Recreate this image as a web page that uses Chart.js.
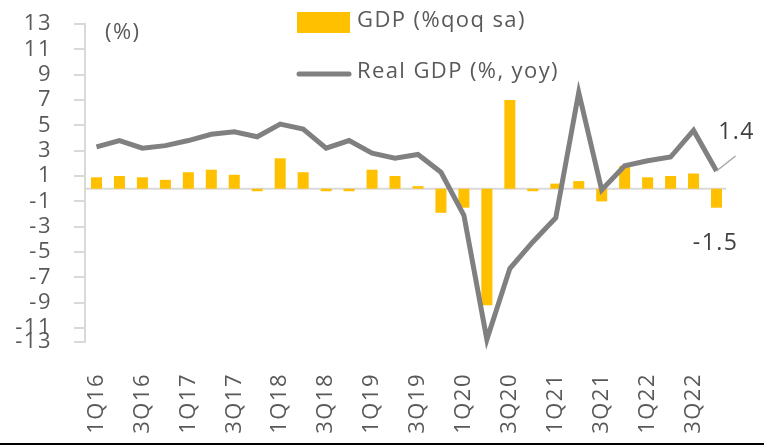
<!DOCTYPE html>
<html>
<head>
<meta charset="utf-8">
<script src="https://cdn.jsdelivr.net/npm/chart.js@4/dist/chart.umd.min.js"></script>
<style>
  html, body { margin: 0; padding: 0; background: #ffffff; }
  #wrap { width: 764px; height: 445px; position: relative; }
</style>
</head>
<body>
<div id="wrap"><canvas id="c" width="764" height="445"></canvas></div>
<script>
// ---- data ----
const quarters = ['1Q16','2Q16','3Q16','4Q16','1Q17','2Q17','3Q17','4Q17',
                  '1Q18','2Q18','3Q18','4Q18','1Q19','2Q19','3Q19','4Q19',
                  '1Q20','2Q20','3Q20','4Q20','1Q21','2Q21','3Q21','4Q21',
                  '1Q22','2Q22','3Q22','4Q22'];
const gdpQoq = [0.9, 1.0, 0.9, 0.7, 1.3, 1.5, 1.1, -0.2,
                2.4, 1.3, -0.2, -0.2, 1.5, 1.0, 0.2, -1.9,
                -1.5, -9.2, 7.0, -0.2, 0.4, 0.6, -1.0, 1.8,
                0.9, 1.0, 1.2, -1.5];
const gdpYoy = [3.3, 3.8, 3.2, 3.4, 3.8, 4.3, 4.5, 4.1,
                5.1, 4.7, 3.2, 3.8, 2.8, 2.4, 2.7, 1.3,
                -2.1, -11.9, -6.3, -4.2, -2.3, 7.6, -0.1, 1.8,
                2.2, 2.5, 4.6, 1.4];
const yTickValues = [13, 11, 9, 7, 5, 3, 1, -1, -3, -5, -7, -9, -11];
const yTickLabels = ['13','11','9','7','5','3','1','-1','-3','-5','-7','-9','-11','-13'];
const yMin = -12.1, yMax = 13;
const seriesNames = ['GDP (%qoq sa)', 'Real GDP (%, yoy)'];
const unitLabel = '(%)';

const FONT = '"Open Sans", "DejaVu Sans", sans-serif';
const TXT = '#595959';
const BAR = '#FFC000';
const LINE = '#808080';
const AXIS = '#D9D9D9';

const overlay = {
  id: 'overlay',
  beforeDraw(chart) {
    chart.ctx.letterSpacing = '1.5px';
  },
  beforeDatasetsDraw(chart) {
    const ctx = chart.ctx, ca = chart.chartArea, y = chart.scales.y;
    const y0 = y.getPixelForValue(0);
    ctx.save();
    ctx.strokeStyle = AXIS; ctx.lineWidth = 2;
    ctx.beginPath(); ctx.moveTo(ca.left, y0); ctx.lineTo(ca.right - 2, y0); ctx.stroke();
    ctx.restore();
  },
  afterDatasetsDraw(chart) {
    const ctx = chart.ctx;
    ctx.save();
    ctx.letterSpacing = '1.4px';
    // legend
    ctx.fillStyle = BAR;
    ctx.fillRect(297, 12, 53, 21);
    ctx.strokeStyle = LINE; ctx.lineWidth = 5; ctx.lineCap = 'round';
    ctx.beginPath(); ctx.moveTo(299, 74); ctx.lineTo(349, 74); ctx.stroke();
    ctx.fillStyle = TXT;
    ctx.font = '22px ' + FONT;
    ctx.textBaseline = 'middle'; ctx.textAlign = 'left';
    ctx.fillText(seriesNames[0], 357, 21);
    ctx.fillText(seriesNames[1], 357, 72);
    ctx.fillText(unitLabel, 105, 33);
    // end labels
    const n = quarters.length - 1;
    const lp = chart.getDatasetMeta(1).data[n];
    const bp = chart.getDatasetMeta(0).data[n];
    ctx.strokeStyle = '#A6A6A6'; ctx.lineWidth = 1.5; ctx.lineCap = 'butt';
    ctx.beginPath(); ctx.moveTo(lp.x, lp.y); ctx.lineTo(lp.x + 19, lp.y - 15); ctx.stroke();
    ctx.fillStyle = '#404040';
    ctx.font = '23px ' + FONT;
    ctx.textAlign = 'center';
    ctx.fillText(gdpYoy[n].toFixed(1), lp.x + 20, lp.y - 39);
    ctx.fillText(gdpQoq[n].toFixed(1), bp.x - 1, bp.y + 36);
    ctx.restore();
    // bottom border
    ctx.save();
    ctx.fillStyle = '#000';
    ctx.fillRect(0, 443, chart.width, 2);
    ctx.restore();
  }
};

new Chart(document.getElementById('c'), {
  data: {
    labels: quarters,
    datasets: [
      { type: 'bar', label: seriesNames[0], data: gdpQoq, backgroundColor: BAR,
        barPercentage: 0.48, categoryPercentage: 1.0, order: 2 },
      { type: 'line', label: seriesNames[1], data: gdpYoy, borderColor: LINE,
        borderWidth: 5, pointRadius: 0, tension: 0, borderJoinStyle: 'miter',
        borderCapStyle: 'butt', order: 1, clip: false }
    ]
  },
  options: {
    responsive: false,
    devicePixelRatio: 1,
    animation: false,
    layout: { padding: { top: 24, right: 36, bottom: 0, left: 0 } },
    plugins: { legend: { display: false }, tooltip: { enabled: false } },
    scales: {
      x: {
        offset: true,
        grid: { display: false, drawTicks: false },
        border: { display: false },
        ticks: {
          autoSkip: false, maxRotation: 90, minRotation: 90,
          padding: 31, color: TXT, font: { family: FONT, size: 22 },
          callback: (v, i) => (i % 2 === 0 ? quarters[i] : '')
        },
        afterFit: (s) => { s.height = 103; s.paddingLeft = 0; s.paddingRight = 0; s.paddingTop = 0; s.paddingBottom = 0; }
      },
      y: {
        min: yMin, max: yMax,
        grid: { drawOnChartArea: false, drawTicks: true, tickLength: 11, color: AXIS, lineWidth: 2 },
        border: { display: true, color: AXIS, width: 2 },
        afterBuildTicks: (s) => {
          s.ticks = yTickValues.map(v => ({ value: v })).concat([{ value: yMin }]);
        },
        ticks: {
          autoSkip: false,
          padding: 22, color: TXT, font: { family: FONT, size: 22 },
          callback: (v, i) => yTickLabels[i]
        },
        afterFit: (s) => { s.width = 85; s.paddingTop = 0; s.paddingBottom = 0; s.paddingLeft = 0; s.paddingRight = 0; }
      }
    }
  },
  plugins: [overlay]
});
</script>
</body>
</html>
